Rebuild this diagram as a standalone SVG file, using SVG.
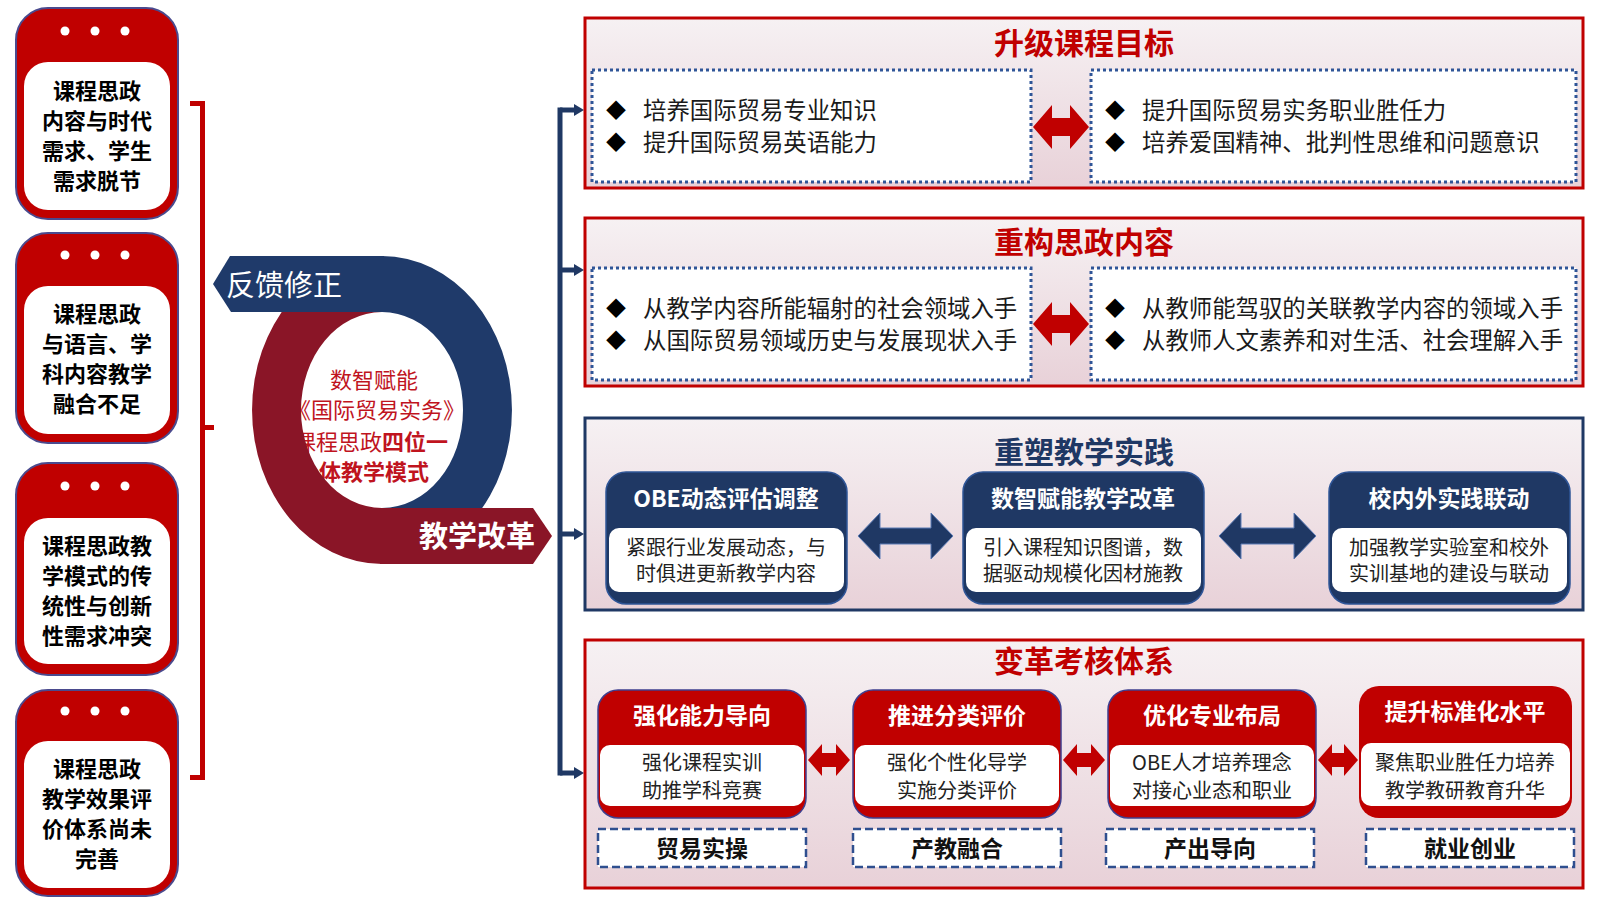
<svg xmlns="http://www.w3.org/2000/svg" width="1600" height="899" viewBox="0 0 1600 899">
<defs>
<style>
text{font-family:"Noto Sans CJK SC","Microsoft YaHei","Noto Sans",sans-serif}
.lc-out{fill:#C00000;stroke:#4A4A8E;stroke-width:2}
.lc-in{fill:#fff}
.dot{fill:#fff}
.lc-t{font-size:22px;font-weight:700;fill:#000;text-anchor:middle}
.sec-r{fill:url(#secbg);stroke:#C00000;stroke-width:3}
.sec-b{fill:url(#secbg);stroke:#1F3864;stroke-width:3}
.dotbox{fill:#fff;stroke:#2F5597;stroke-width:3;stroke-dasharray:3 3}
.title{font-size:30px;font-weight:700;text-anchor:middle}
.bul{font-size:23.4px;fill:#1a1a1a}
.dia{font-size:20px;fill:#000;text-anchor:middle}
.rarr{fill:#C00000}
.barr{fill:#1F3864;stroke:#5B7BB5;stroke-width:1}
.nc{fill:#1F3864;stroke:#2F5597;stroke-width:1.5}
.rc{fill:#C00000;stroke:#3F3F8F;stroke-width:1.5}
.cbody{fill:#fff}
.hdr{font-size:23px;font-weight:700;fill:#fff;text-anchor:middle}
.body{font-size:20px;fill:#222;text-anchor:middle}
.tagbox{fill:#fff;stroke:#2F4F8F;stroke-width:2.5;stroke-dasharray:8 4}
.tag{font-size:23px;font-weight:700;fill:#111;text-anchor:middle}
.conn{stroke:#1F3864;stroke-width:5;fill:none}
</style>
<linearGradient id="secbg" x1="0" y1="0" x2="0" y2="1">
<stop offset="0" stop-color="#F6F1F3"/>
<stop offset="1" stop-color="#E8D1D8"/>
</linearGradient>
<marker id="arr" markerUnits="userSpaceOnUse" markerWidth="10" markerHeight="12" refX="0" refY="6" orient="auto">
<path d="M0,0 L10,6 L0,12 Z" fill="#1F3864"/>
</marker>
</defs>
<rect width="1600" height="899" fill="#fff"/>

<!-- Left cards -->
<g id="card-1">
<rect class="lc-out" x="16" y="8" width="162" height="211" rx="32"/>
<rect class="lc-in" x="24" y="62" width="146" height="148" rx="24"/>
<circle class="dot" cx="65" cy="31" r="4.5"/><circle class="dot" cx="95" cy="31" r="4.5"/><circle class="dot" cx="125" cy="31" r="4.5"/>
<text class="lc-t" x="97" y="99">课程思政</text>
<text class="lc-t" x="97" y="129">内容与时代</text>
<text class="lc-t" x="97" y="159">需求、学生</text>
<text class="lc-t" x="97" y="189">需求脱节</text>
</g>
<g id="card-2">
<rect class="lc-out" x="16" y="233" width="162" height="210" rx="32"/>
<rect class="lc-in" x="24" y="286" width="146" height="148" rx="24"/>
<circle class="dot" cx="65" cy="255" r="4.5"/><circle class="dot" cx="95" cy="255" r="4.5"/><circle class="dot" cx="125" cy="255" r="4.5"/>
<text class="lc-t" x="97" y="322">课程思政</text>
<text class="lc-t" x="97" y="352">与语言、学</text>
<text class="lc-t" x="97" y="382">科内容教学</text>
<text class="lc-t" x="97" y="412">融合不足</text>
</g>
<g id="card-3">
<rect class="lc-out" x="16" y="463" width="162" height="212" rx="32"/>
<rect class="lc-in" x="24" y="518" width="146" height="146" rx="24"/>
<circle class="dot" cx="65" cy="486" r="4.5"/><circle class="dot" cx="95" cy="486" r="4.5"/><circle class="dot" cx="125" cy="486" r="4.5"/>
<text class="lc-t" x="97" y="554">课程思政教</text>
<text class="lc-t" x="97" y="584">学模式的传</text>
<text class="lc-t" x="97" y="614">统性与创新</text>
<text class="lc-t" x="97" y="644">性需求冲突</text>
</g>
<g id="card-4">
<rect class="lc-out" x="16" y="690" width="162" height="206" rx="32"/>
<rect class="lc-in" x="24" y="741" width="146" height="147" rx="24"/>
<circle class="dot" cx="65" cy="711" r="4.5"/><circle class="dot" cx="95" cy="711" r="4.5"/><circle class="dot" cx="125" cy="711" r="4.5"/>
<text class="lc-t" x="97" y="777">课程思政</text>
<text class="lc-t" x="97" y="807">教学效果评</text>
<text class="lc-t" x="97" y="837">价体系尚未</text>
<text class="lc-t" x="97" y="867">完善</text>
</g>

<!-- Center ring -->
<g id="ring">
<ellipse cx="382" cy="410" rx="81" ry="98" fill="#fff"/>
<text x="374" y="388" font-size="22" fill="#C0141E" text-anchor="middle">数智赋能</text>
<text x="377" y="418" font-size="22" fill="#C0141E" text-anchor="middle">《国际贸易实务》</text>
<text x="371" y="450" font-size="22" fill="#C0141E" text-anchor="middle">课程思政<tspan font-weight="700">四位一</tspan></text>
<text x="374" y="480" font-size="22" fill="#C0141E" font-weight="700" text-anchor="middle">体教学模式</text>
<path d="M382,256 A130,154 0 0 0 382,564 L382,508 A81,98 0 0 1 382,312 Z" fill="#8A1527"/>
<path d="M382,256 A130,154 0 0 1 382,564 L382,508 A81,98 0 0 0 382,312 Z" fill="#1F3A6A"/>
<path d="M384,256 H230 L213,284 L231,312 H384 Z" fill="#1F3A6A"/>
<path d="M380,508 H533 L552,536 L533,564 H380 Z" fill="#8A1527"/>
<text x="226" y="296" font-size="29" fill="#fff">反馈修正</text>
<text x="477" y="547" font-size="29" font-weight="700" fill="#fff" text-anchor="middle">教学改革</text>
</g>

<!-- Connectors -->
<g id="connectors">
<path d="M190,103.5 H202.5 V777.5 H190" stroke="#C00000" stroke-width="5" fill="none"/>
<path d="M202.5,427.5 H214" stroke="#C00000" stroke-width="5" fill="none"/>
<path class="conn" d="M560,107.5 V775.5"/>
<path class="conn" d="M560,110 H574" marker-end="url(#arr)"/>
<path class="conn" d="M560,270 H574" marker-end="url(#arr)"/>
<path class="conn" d="M560,534 H574" marker-end="url(#arr)"/>
<path class="conn" d="M560,773 H574" marker-end="url(#arr)"/>
</g>

<!-- Section 1 -->
<g id="sec-goal">
<rect class="sec-r" x="585" y="18" width="998" height="170"/>
<text class="title" x="1084" y="54" fill="#C00000">升级课程目标</text>
<rect class="dotbox" x="592" y="70" width="439" height="112"/>
<rect class="dotbox" x="1091" y="70" width="485" height="112"/>
<polygon class="rarr" points="1033,127 1052,105 1052,118 1070,118 1070,105 1089,127 1070,149 1070,136 1052,136 1052,149"/>
<text class="dia" x="616" y="118">◆</text>
<text class="dia" x="616" y="150">◆</text>
<text class="bul" x="643" y="119">培养国际贸易专业知识</text>
<text class="bul" x="643" y="151">提升国际贸易英语能力</text>
<text class="dia" x="1115" y="118">◆</text>
<text class="dia" x="1115" y="150">◆</text>
<text class="bul" x="1142" y="119">提升国际贸易实务职业胜任力</text>
<text class="bul" x="1142" y="151">培养爱国精神、批判性思维和问题意识</text>
</g>

<!-- Section 2 -->
<g id="sec-content">
<rect class="sec-r" x="585" y="218" width="998" height="168"/>
<text class="title" x="1084" y="253" fill="#C00000">重构思政内容</text>
<rect class="dotbox" x="592" y="268" width="439" height="112"/>
<rect class="dotbox" x="1091" y="268" width="485" height="112"/>
<polygon class="rarr" points="1033,324 1052,302 1052,315 1070,315 1070,302 1089,324 1070,346 1070,333 1052,333 1052,346"/>
<text class="dia" x="616" y="316">◆</text>
<text class="dia" x="616" y="348">◆</text>
<text class="bul" x="643" y="317">从教学内容所能辐射的社会领域入手</text>
<text class="bul" x="643" y="349">从国际贸易领域历史与发展现状入手</text>
<text class="dia" x="1115" y="316">◆</text>
<text class="dia" x="1115" y="348">◆</text>
<text class="bul" x="1142" y="317">从教师能驾驭的关联教学内容的领域入手</text>
<text class="bul" x="1142" y="349">从教师人文素养和对生活、社会理解入手</text>
</g>

<!-- Section 3 -->
<g id="sec-practice">
<rect class="sec-b" x="585" y="418" width="998" height="192"/>
<text class="title" x="1084" y="463" fill="#1F3864">重塑教学实践</text>
<polygon class="barr" points="858,536 880,513 880,528 931,528 931,513 953,536 931,559 931,544 880,544 880,559"/>
<polygon class="barr" points="1219,536 1241,513 1241,528 1294,528 1294,513 1316,536 1294,559 1294,544 1241,544 1241,559"/>
</g>
<g id="p-card-1">
<rect class="nc" x="606" y="472" width="241" height="132" rx="20"/>
<rect class="cbody" x="609" y="528" width="235" height="64" rx="10"/>
<text class="hdr" x="726" y="507">OBE动态评估调整</text>
<text class="body" x="726" y="555">紧跟行业发展动态，与</text>
<text class="body" x="726" y="581">时俱进更新教学内容</text>
</g>
<g id="p-card-2">
<rect class="nc" x="963" y="472" width="241" height="132" rx="20"/>
<rect class="cbody" x="966" y="528" width="235" height="64" rx="10"/>
<text class="hdr" x="1083" y="507">数智赋能教学改革</text>
<text class="body" x="1083" y="555">引入课程知识图谱，数</text>
<text class="body" x="1083" y="581">据驱动规模化因材施教</text>
</g>
<g id="p-card-3">
<rect class="nc" x="1329" y="472" width="241" height="132" rx="20"/>
<rect class="cbody" x="1332" y="528" width="235" height="64" rx="10"/>
<text class="hdr" x="1449" y="507">校内外实践联动</text>
<text class="body" x="1449" y="555">加强教学实验室和校外</text>
<text class="body" x="1449" y="581">实训基地的建设与联动</text>
</g>

<!-- Section 4 -->
<g id="sec-assess">
<rect class="sec-r" x="585" y="640" width="998" height="248"/>
<text class="title" x="1084" y="672" fill="#C00000">变革考核体系</text>
<polygon class="rarr" points="808,760 822,744 822,753 836,753 836,744 850,760 836,776 836,767 822,767 822,776"/>
<polygon class="rarr" points="1063,760 1077,744 1077,753 1091,753 1091,744 1105,760 1091,776 1091,767 1077,767 1077,776"/>
<polygon class="rarr" points="1318,760 1332,744 1332,753 1344,753 1344,744 1358,760 1344,776 1344,767 1332,767 1332,776"/>
</g>
<g id="a-card-1">
<rect class="rc" x="598" y="690" width="208" height="128" rx="20"/>
<rect class="cbody" x="600" y="745" width="204" height="61" rx="10"/>
<text class="hdr" x="702" y="724">强化能力导向</text>
<text class="body" x="702" y="770">强化课程实训</text>
<text class="body" x="702" y="798">助推学科竞赛</text>
<rect class="tagbox" x="598" y="829" width="208" height="38"/>
<text class="tag" x="702" y="857">贸易实操</text>
</g>
<g id="a-card-2">
<rect class="rc" x="853" y="690" width="208" height="128" rx="20"/>
<rect class="cbody" x="855" y="745" width="204" height="61" rx="10"/>
<text class="hdr" x="957" y="724">推进分类评价</text>
<text class="body" x="957" y="770">强化个性化导学</text>
<text class="body" x="957" y="798">实施分类评价</text>
<rect class="tagbox" x="853" y="829" width="208" height="38"/>
<text class="tag" x="957" y="857">产教融合</text>
</g>
<g id="a-card-3">
<rect class="rc" x="1108" y="690" width="208" height="128" rx="20"/>
<rect class="cbody" x="1110" y="745" width="204" height="61" rx="10"/>
<text class="hdr" x="1212" y="724">优化专业布局</text>
<text class="body" x="1212" y="770">OBE人才培养理念</text>
<text class="body" x="1212" y="798">对接心业态和职业</text>
<rect class="tagbox" x="1106" y="829" width="208" height="38"/>
<text class="tag" x="1210" y="857">产出导向</text>
</g>
<g id="a-card-4">
<rect x="1359" y="686" width="213" height="132" rx="20" fill="#C00000"/>
<rect class="cbody" x="1361" y="743" width="209" height="63" rx="10"/>
<text class="hdr" x="1465" y="720">提升标准化水平</text>
<text class="body" x="1465" y="770">聚焦职业胜任力培养</text>
<text class="body" x="1465" y="798">教学教研教育升华</text>
<rect class="tagbox" x="1366" y="829" width="208" height="38"/>
<text class="tag" x="1470" y="857">就业创业</text>
</g>
</svg>
